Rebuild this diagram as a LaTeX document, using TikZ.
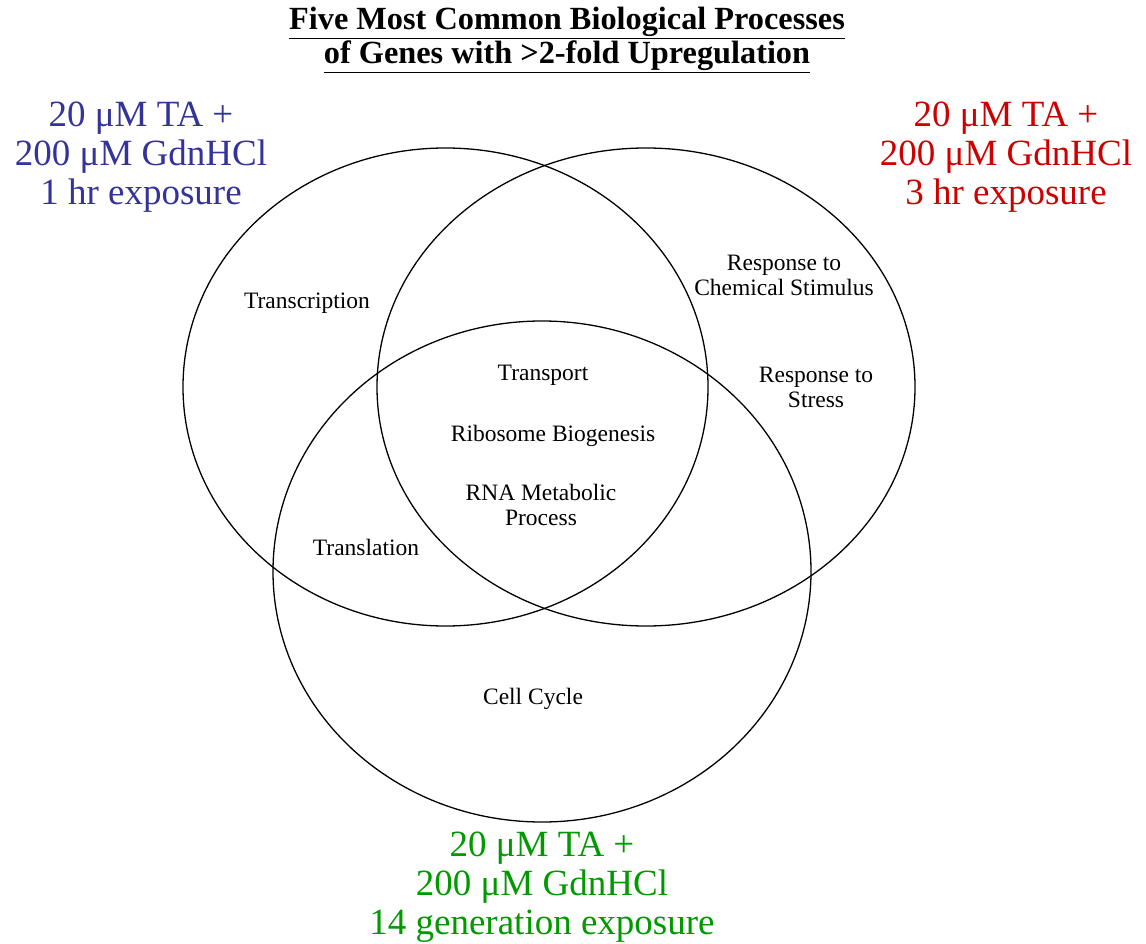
\documentclass[tikz,border=0pt]{standalone}
\usepackage{fontspec}
\setmainfont{Liberation Serif}
\usetikzlibrary{shapes.geometric}
\definecolor{onehr}{RGB}{51,51,153}
\definecolor{threehr}{RGB}{204,0,0}
\definecolor{fourteengen}{RGB}{0,153,0}
\begin{document}
\begin{tikzpicture}[x=1pt,y=-1pt]
        \tikzstyle{venn} = [ellipse, draw=black, line width=1.3pt, inner sep=0pt]
        \tikzstyle{proc} = [align=center, text=black, inner sep=0pt, font=\fontsize{23.5}{25}\selectfont]
        \tikzstyle{cond} = [align=center, inner sep=0pt, font=\fontsize{37}{39}\selectfont]
        \useasboundingbox (0,0) rectangle (1146,944);
        % title
        \node[align=center, inner sep=0pt, font=\fontsize{32.3}{34}\selectfont\bfseries] (title) at (567,40) {\underline{Five Most Common Biological Processes}\\\underline{of Genes with >2-fold Upregulation}};
        % the three sets
        \node[venn, minimum width=525, minimum height=478] (hr1) at (445.5,387) {};
        \node[venn, minimum width=538, minimum height=478] (hr3) at (646,387) {};
        \node[venn, minimum width=538, minimum height=501] (gen14) at (542,571.5) {};
        % conditions
        \node[cond, text=onehr] (hr1label) at (141,157) {20 μM TA +\\200 μM GdnHCl\\1 hr exposure};
        \node[cond, text=threehr] (hr3label) at (1006,157) {20 μM TA +\\200 μM GdnHCl\\3 hr exposure};
        \node[cond, text=fourteengen] (gen14label) at (542,887) {20 μM TA +\\200 μM GdnHCl\\14 generation exposure};
        % processes
        \node[proc] (transcription) at (307,303) {Transcription};
        \node[proc] (chemstim) at (784,275) {Response to\\Chemical Stimulus};
        \node[proc] (transport) at (543,375) {Transport};
        \node[proc] (stress) at (816,387) {Response to\\Stress};
        \node[proc] (ribosome) at (553,436) {Ribosome Biogenesis};
        \node[proc] (rnametab) at (541,505) {RNA Metabolic\\Process};
        \node[proc] (translation) at (366,547) {Translation};
        \node[proc] (cellcycle) at (533,699) {Cell Cycle};
\end{tikzpicture}
\end{document}
